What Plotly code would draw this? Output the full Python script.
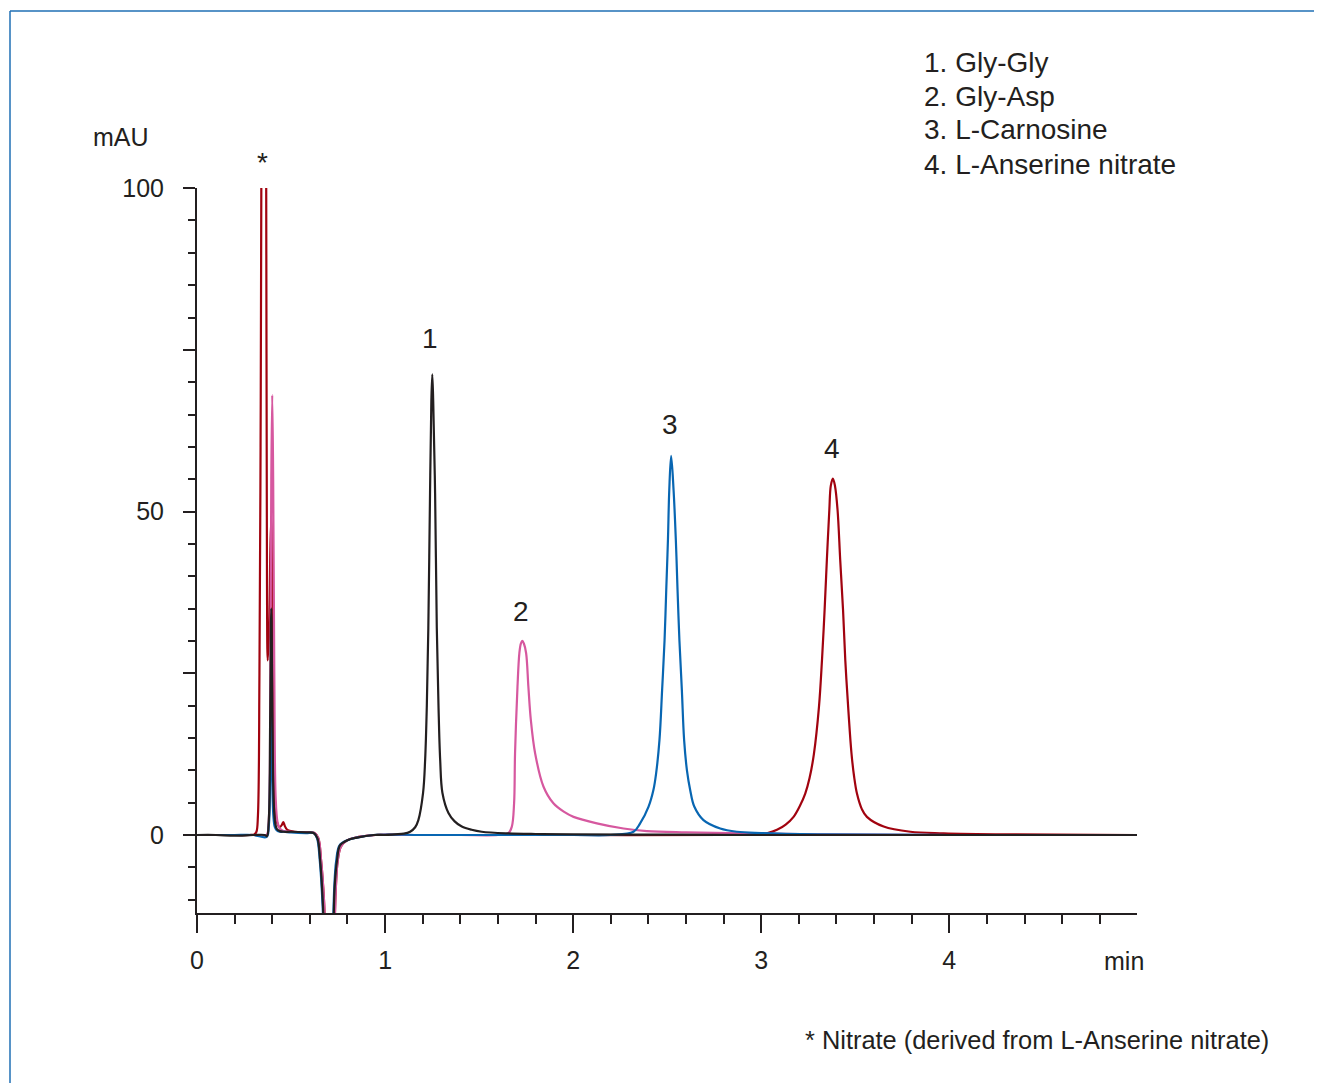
import plotly.graph_objects as go

# ---------------- data ----------------
gly_gly_t = [0.00, 0.10, 0.20, 0.30, 0.36, 0.372, 0.382, 0.389, 0.395, 0.401, 0.408, 0.416, 0.425, 0.44, 0.46, 0.50,
             0.58, 0.62, 0.640, 0.655, 0.670, 0.685, 0.703, 0.720, 0.732, 0.745, 0.760, 0.800, 0.850, 0.940, 1.00,
             1.053, 1.10, 1.133, 1.160, 1.177, 1.202, 1.213, 1.222, 1.230, 1.239, 1.246, 1.251, 1.256, 1.266, 1.275,
             1.284, 1.293, 1.305, 1.337, 1.370, 1.408, 1.460, 1.514, 1.65, 1.80, 2.00, 2.50, 3.00, 3.50, 4.00, 4.50, 5.00]
gly_gly_a = [0.0, 0.0, -0.1, 0.0, 0.0, -0.2, 2.5, 18, 35, 18, 5, 1.8, 0.9, 0.6, 0.5, 0.5,
             0.4, 0.3, -0.5, -4, -11, -25, -32, -22, -8, -3.8, -1.6, -0.8, -0.4, 0.0, 0.0,
             0.1, 0.2, 0.5, 1.2, 2.3, 6.5, 11.6, 20, 32, 52.8, 67, 71.2, 67, 52.8, 32,
             20, 11.6, 6.5, 3.4, 2.1, 1.3, 0.8, 0.5, 0.25, 0.15, 0.1, 0.05, 0.0, 0.0, 0.0, 0.0, 0.0]

gly_asp_t = [0.00, 0.10, 0.20, 0.30, 0.37, 0.380, 0.390, 0.395, 0.400, 0.405, 0.411, 0.418, 0.428, 0.44, 0.46, 0.50,
             0.58, 0.625, 0.645, 0.660, 0.675, 0.690, 0.708, 0.725, 0.737, 0.748, 0.765, 0.80, 0.86, 0.95, 1.10,
             1.40, 1.60, 1.656, 1.674, 1.686, 1.691, 1.704, 1.714, 1.722, 1.730, 1.738, 1.750, 1.762, 1.775, 1.798,
             1.842, 1.895, 1.95, 2.002, 2.126, 2.268, 2.392, 2.60, 2.90, 3.30, 4.00, 5.00]
gly_asp_a = [0.0, 0.0, 0.0, 0.0, 0.0, 1.5, 25, 55, 68, 55, 25, 6, 2.0, 1.0, 0.6, 0.5,
             0.4, 0.3, -0.5, -4, -10, -22, -32, -22, -9, -4, -1.8, -0.8, -0.3, 0.0, 0.0,
             0.0, 0.0, 0.3, 1.3, 4.9, 12.6, 22.9, 28.1, 29.6, 30.0, 29.6, 28.1, 22.9, 17.8, 12.6,
             7.5, 4.9, 3.6, 2.8, 1.8, 1.0, 0.6, 0.4, 0.25, 0.1, 0.0, 0.0]

carnosine_t = [0.00, 0.10, 0.20, 0.30, 0.37, 0.382, 0.389, 0.394, 0.399, 0.406, 0.414, 0.425, 0.44, 0.46, 0.50,
               0.58, 0.62, 0.638, 0.653, 0.668, 0.683, 0.700, 0.718, 0.730, 0.740, 0.758, 0.80, 0.85, 0.94, 1.20,
               1.60, 2.00, 2.20, 2.321, 2.356, 2.401, 2.427, 2.441, 2.459, 2.473, 2.486, 2.495, 2.504, 2.511, 2.521,
               2.534, 2.546, 2.555, 2.565, 2.578, 2.590, 2.605, 2.622, 2.644, 2.693, 2.782, 2.871, 3.00, 3.30, 4.00, 5.00]
carnosine_a = [0.0, 0.0, 0.0, 0.0, -0.3, 1.5, 10, 18.4, 10, 3, 1.2, 0.7, 0.5, 0.5, 0.4,
               0.3, 0.3, -0.5, -4, -11, -25, -32, -20, -8, -4, -1.6, -0.8, -0.4, 0.0, 0.0,
               0.0, 0.0, 0.0, 0.5, 1.8, 4.4, 7.0, 9.5, 14.7, 22.4, 30.1, 37.9, 45.6, 53.3, 58.6,
               53.3, 45.6, 37.9, 30.1, 22.4, 14.7, 10.0, 7.0, 4.4, 2.3, 1.0, 0.5, 0.3, 0.1, 0.0, 0.0]

anserine_t = [0.00, 0.10, 0.20, 0.28, 0.305, 0.316, 0.324, 0.332, 0.338, 0.342, 0.352, 0.362, 0.368, 0.372, 0.376,
              0.384, 0.390, 0.395, 0.400, 0.407, 0.415, 0.425, 0.440, 0.452, 0.459, 0.467, 0.48, 0.52, 0.58, 0.625,
              0.645, 0.660, 0.675, 0.690, 0.708, 0.725, 0.737, 0.748, 0.765, 0.80, 0.86, 0.95, 1.20, 2.00, 2.80,
              3.00, 3.030, 3.084, 3.130, 3.172, 3.204, 3.234, 3.257, 3.280, 3.307, 3.323, 3.337, 3.349, 3.362, 3.370,
              3.381, 3.392, 3.406, 3.420, 3.435, 3.447, 3.464, 3.480, 3.494, 3.509, 3.535, 3.562, 3.651, 3.793,
              3.970, 4.30, 5.00]
anserine_a = [0.0, 0.0, 0.0, 0.0, 0.1, 0.5, 3, 25, 60, 100, 160, 140, 100, 40, 27,
              32, 44, 49, 35, 12, 4, 2.0, 1.2, 1.6, 2.0, 1.4, 0.8, 0.5, 0.4, 0.3,
              -0.5, -4, -10, -22, -32, -22, -9, -4, -1.8, -0.8, -0.3, 0.0, 0.0, 0.0, 0.0,
              0.1, 0.26, 0.8, 1.6, 2.8, 4.4, 6.4, 8.8, 12.5, 19.8, 27.0, 34.8, 42.5, 50.2, 54.0,
              55.1, 54.0, 50.2, 42.5, 34.8, 27.0, 19.0, 12.6, 9.0, 6.4, 4.0, 2.8, 1.3, 0.5,
              0.26, 0.1, 0.0]

series_names = ["Gly-Gly", "Gly-Asp", "L-Carnosine", "L-Anserine nitrate"]
peak_labels = ["1", "2", "3", "4"]
peak_label_t = [1.239, 1.723, 2.516, 3.378]
peak_label_a = [76.8, 34.5, 63.5, 59.8]
legend_lines = ["1. Gly-Gly", "2. Gly-Asp", "3. L-Carnosine", "4. L-Anserine nitrate"]
footnote = "* Nitrate (derived from L-Anserine nitrate)"
x_tick_vals = [0, 1, 2, 3, 4]
y_tick_vals = [0, 25, 50, 75, 100]
y_tick_text = ["0", "", "50", "", "100"]

# ---------------- styling ----------------
OFF = 8                     # page body margin of the browser
W, H = 1322 - OFF, 1083 - OFF
L, R, T, B = 197 - OFF, 1137 - OFF, 188 - OFF, 913 - OFF   # plot area in figure pixels
FONT = "Liberation Sans"
INK = "#231f20"
col = {"Gly-Gly": "#231f20", "Gly-Asp": "#d6589f", "L-Carnosine": "#0866b2", "L-Anserine nitrate": "#a1030f"}

def px(xp):
    return (xp - OFF - L) / (R - L)

def py(yp):
    return (B - (yp - OFF)) / (B - T)

fig = go.Figure()
for name, t, a in [("L-Anserine nitrate", anserine_t, anserine_a),
                   ("Gly-Asp", gly_asp_t, gly_asp_a),
                   ("L-Carnosine", carnosine_t, carnosine_a),
                   ("Gly-Gly", gly_gly_t, gly_gly_a)]:
    fig.add_trace(go.Scatter(x=t, y=a, mode="lines", name=name,
                             line=dict(color=col[name], width=2.2, shape="spline", smoothing=1.0),
                             showlegend=False, hoverinfo="skip"))

ann = []
for lab, t, a in zip(peak_labels, peak_label_t, peak_label_a):
    ann.append(dict(x=t, y=a, xref="x", yref="y", text=lab, showarrow=False,
                    font=dict(family=FONT, size=28, color=INK), yanchor="middle"))
ann.append(dict(x=px(262), y=py(163), xref="paper", yref="paper", text="*", showarrow=False,
                font=dict(family=FONT, size=28, color=INK), xanchor="center", yanchor="middle"))
for i, line in enumerate(legend_lines):
    ann.append(dict(x=px(922), y=py(62 + 34 * i), xref="paper", yref="paper", text=line, showarrow=False,
                    xanchor="left", yanchor="middle", font=dict(family=FONT, size=28, color=INK)))
ann.append(dict(x=px(121), y=py(137), xref="paper", yref="paper", text="mAU", showarrow=False,
                xanchor="center", yanchor="middle", font=dict(family=FONT, size=25, color=INK)))
ann.append(dict(x=px(1124), y=py(961), xref="paper", yref="paper", text="min", showarrow=False,
                xanchor="center", yanchor="middle", font=dict(family=FONT, size=25, color=INK)))
ann.append(dict(x=px(1271), y=py(1040), xref="paper", yref="paper", text=footnote, showarrow=False,
                xanchor="right", yanchor="middle", font=dict(family=FONT, size=25.4, color=INK)))

shapes = [
    dict(type="line", xref="paper", yref="paper", x0=px(10), x1=px(1340), y0=py(11), y1=py(11),
         line=dict(color="#1f6fb4", width=1.5)),
    dict(type="line", xref="paper", yref="paper", x0=px(10), x1=px(10), y0=py(11), y1=py(1100),
         line=dict(color="#1f6fb4", width=1.5)),
]

fig.update_layout(
    width=W, height=H,
    margin=dict(l=L, r=W - R, t=T, b=H - B, pad=0),
    paper_bgcolor="white", plot_bgcolor="white",
    annotations=ann, shapes=shapes,
    font=dict(family=FONT, size=25, color=INK),
    xaxis=dict(range=[0, 4.998], showgrid=False, zeroline=False, showline=True, linecolor=INK, linewidth=2,
               tickmode="array", tickvals=x_tick_vals, ticks="outside", ticklen=18, tickwidth=2, tickcolor=INK,
               ticklabelstandoff=6,
               minor=dict(dtick=0.2, tick0=0, ticks="outside", ticklen=9, tickwidth=2, tickcolor=INK),
               tickfont=dict(family=FONT, size=25, color=INK)),
    yaxis=dict(range=[-12.06, 100.02], showgrid=False, zeroline=False, showline=True, linecolor=INK, linewidth=2,
               tickmode="array", tickvals=y_tick_vals, ticktext=y_tick_text, ticks="outside", ticklen=12,
               tickwidth=2, tickcolor=INK, ticklabelstandoff=14,
               minor=dict(dtick=5, tick0=0, ticks="outside", ticklen=7, tickwidth=2, tickcolor=INK),
               tickfont=dict(family=FONT, size=25, color=INK)),
)

fig.write_html("out.html")
